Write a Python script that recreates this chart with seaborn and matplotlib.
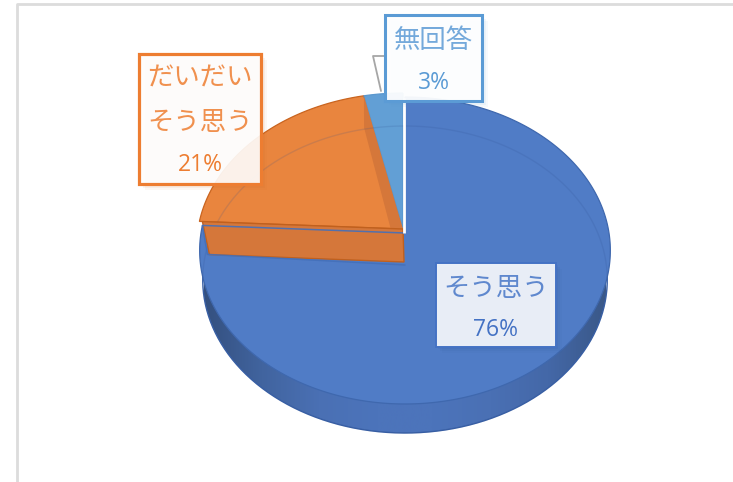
import numpy as np
import matplotlib
matplotlib.use("Agg")
import matplotlib.pyplot as plt
from matplotlib.path import Path
from matplotlib.patches import Rectangle, Circle
from matplotlib.transforms import Transform, Affine2D
from matplotlib.colors import LinearSegmentedColormap
import seaborn as sns

categories = ["そう思う", "だいだい\nそう思う", "無回答"]
values = [75.8, 20.8, 3.4]
value_labels = ["76%", "21%", "3%"]
slice_colors = ["#507CC6", "#E9853E", "#629FD5"]
edge_colors = ["#3F68AE", "#C9641F", "#5A97CE"]
text_colors = ["#5F88CE", "#F0904E", "#74A9DB"]
value_colors = ["#4472C4", "#ED7D31", "#5B9BD5"]
box_colors = ["#4472C4", "#ED7D31", "#5B9BD5"]

sns.set_theme(style="white")
plt.rcParams["font.family"] = ["Noto Sans CJK JP", "DejaVu Sans"]


class Persp(Transform):
    """Tilted-disc projection from the unit pie to pixel coordinates."""
    input_dims = output_dims = 2
    is_affine = False
    has_inverse = False

    def __init__(self, dx=0, dy=0, sx=1.0, sy=1.0):
        super().__init__()
        self.dx, self.dy, self.sx, self.sy = dx, dy, sx, sy

    def transform_non_affine(self, v):
        v = np.asarray(v, float)
        x, y = v[:, 0], v[:, 1]
        k, a, b = 0.114, 204.0, 151.5
        w = 1 + k * y
        return np.column_stack([405 + self.dx + self.sx * a * x / w,
                                233 + self.dy - self.sy * b * y / w])

    def transform_path_non_affine(self, path):
        big = Affine2D().scale(3000).transform_path(path)
        polys = big.to_polygons(closed_only=False)
        verts, codes = [], []
        for p in polys:
            q = self.transform_non_affine(p / 3000)
            verts.append(q)
            c = np.full(len(q), Path.LINETO)
            c[0] = Path.MOVETO
            codes.append(c)
        return Path(np.vstack(verts), np.concatenate(codes))


fig = plt.figure(figsize=(7.33, 4.82), dpi=100, facecolor="white")
ax = fig.add_axes([0, 0, 1, 1])
wedges, _ = ax.pie(values, startangle=90, counterclock=False, radius=1,
                   colors=sns.color_palette(slice_colors))
ax.set_aspect("auto")
ax.set_xlim(0, 733)
ax.set_ylim(482, 0)
ax.axis("off")

top = Persp()
raised = Persp(dx=-2, dy=-4, sx=1.005)
base = Persp(dy=29, sx=0.985)

# page frame
ax.plot([17, 17, 733], [482, 4, 4], color="#DCDCDC", lw=2, zorder=0, solid_capstyle="butt")

# side wall
side = Circle((0, 0), 1, transform=base + ax.transData, fc="none", ec="none")
ax.add_patch(side)
cmap = LinearSegmentedColormap.from_list(
    "wall", ["#34507F", "#41649F", "#4A70B4", "#4C74BB", "#4C74BB", "#4A70B4", "#4468A8", "#3A5888"])
img = ax.imshow(np.linspace(0, 1, 256)[None, :], cmap=cmap, extent=(204, 606, 482, 100),
                aspect="auto", zorder=1)
img.set_clip_path(side)
ax.set_xlim(0, 733)
ax.set_ylim(482, 0)
ax.add_patch(Circle((0, 0), 1, transform=base + ax.transData, fc="none",
                    ec="#3A62A8", lw=1, zorder=1.2))

# top faces
for i, (w, t) in enumerate(zip(wedges, [top, raised, raised])):
    w.set_transform(t + ax.transData)
    w.set_edgecolor(edge_colors[i])
    w.set_linewidth(0.9)
    w.set_zorder(2 + (0.1 if i == 0 else 0))


def rim(theta):
    r = np.deg2rad(theta)
    return np.array([np.cos(r), np.sin(r)])


def seg(t, a, b=None):
    pts = np.array([a] if b is None else [a, b])
    return t.transform_non_affine(pts)


origin = np.array([0.0, 0.0])
blue_end = wedges[0].theta1          # blue / orange boundary
orange_end = wedges[1].theta1        # orange / light-blue boundary
top_angle = wedges[0].theta2         # 12 o'clock

# orange radial wall seen through the blue face
low = Persp(dx=-1, dy=29, sx=0.975)
p = np.vstack([seg(raised, origin), seg(raised, rim(blue_end) * 0.985),
               seg(low, rim(blue_end) * 0.985), seg(low, origin)])
ax.fill(p[:, 0], p[:, 1], color="#D5773A", ec="#C0601E", lw=1, zorder=3)
q = np.vstack([seg(top, origin), seg(top, rim(blue_end)),
               seg(Persp(dy=29, sx=0.975), rim(blue_end)), seg(Persp(dy=32), origin)])
ax.plot(q[:, 0], q[:, 1], color="#4470BA", lw=1.1, zorder=3.1, alpha=0.9)

# orange wall toward the light-blue slice
d = Persp(dx=-2, dy=-4, sx=1.005)
e = Persp(dx=-14, dy=-3, sx=1.005)
pts = np.vstack([seg(d, rim(orange_end)), seg(d, origin), seg(e, origin),
                 seg(Persp(dx=-2, dy=28, sx=1.0), rim(orange_end))])
ax.fill(pts[:, 0], pts[:, 1], color="#D5773A", ec="none", zorder=2.6)

# far rim of the base, faintly visible through the faces
ax.add_patch(Circle((0, 0), 1, transform=base + ax.transData, fc="none",
                    ec="#2F4F8F", lw=1, alpha=0.16, zorder=2.7))

# white seam beside the blue slice
s = seg(top, rim(top_angle) * 0.99, origin)
ax.plot(s[:, 0] - 1, s[:, 1], color="white", lw=2, zorder=3.2, solid_capstyle="butt")

# leader line
ax.plot([385, 373, 381], [56, 56, 91], color="#A6A6A6", lw=1.3, zorder=3.3)

# labels
boxes = [(436, 263, 120, 84), (139, 54, 122, 130), (385, 15, 97, 86)]
rows = [[288, 330], [78, 122, 165], [40, 83]]
face_alpha = [0.88, 0.9, 0.94]
lw_box = [1.4, 2.3, 2.2]
for i in range(3):
    x0, y0, w_, h_ = boxes[i]
    for off, al in zip((6, 4, 2), (0.05, 0.07, 0.09)):
        ax.add_patch(Rectangle((x0 + off, y0 + off), w_, h_, fc=edge_colors[i] if i else "#2F5597",
                               ec="none", alpha=al, zorder=3.5))
    ax.add_patch(Rectangle((x0, y0), w_, h_, fc=(1, 1, 1, face_alpha[i]), ec=box_colors[i],
                           lw=lw_box[i], zorder=4))
    lines = categories[i].split("\n") + [value_labels[i]]
    cx = x0 + w_ / 2
    for txt, yy, is_val in zip(lines, rows[i], [False] * (len(lines) - 1) + [True]):
        ax.text(cx, yy, txt, ha="center", va="center",
                fontsize=16.5 if is_val else 19, color=value_colors[i] if is_val else text_colors[i],
                zorder=5,
                family=["Open Sans", "DejaVu Sans"] if is_val else ["Noto Sans CJK JP", "DejaVu Sans"])

fig.savefig("out.png", dpi=100)
